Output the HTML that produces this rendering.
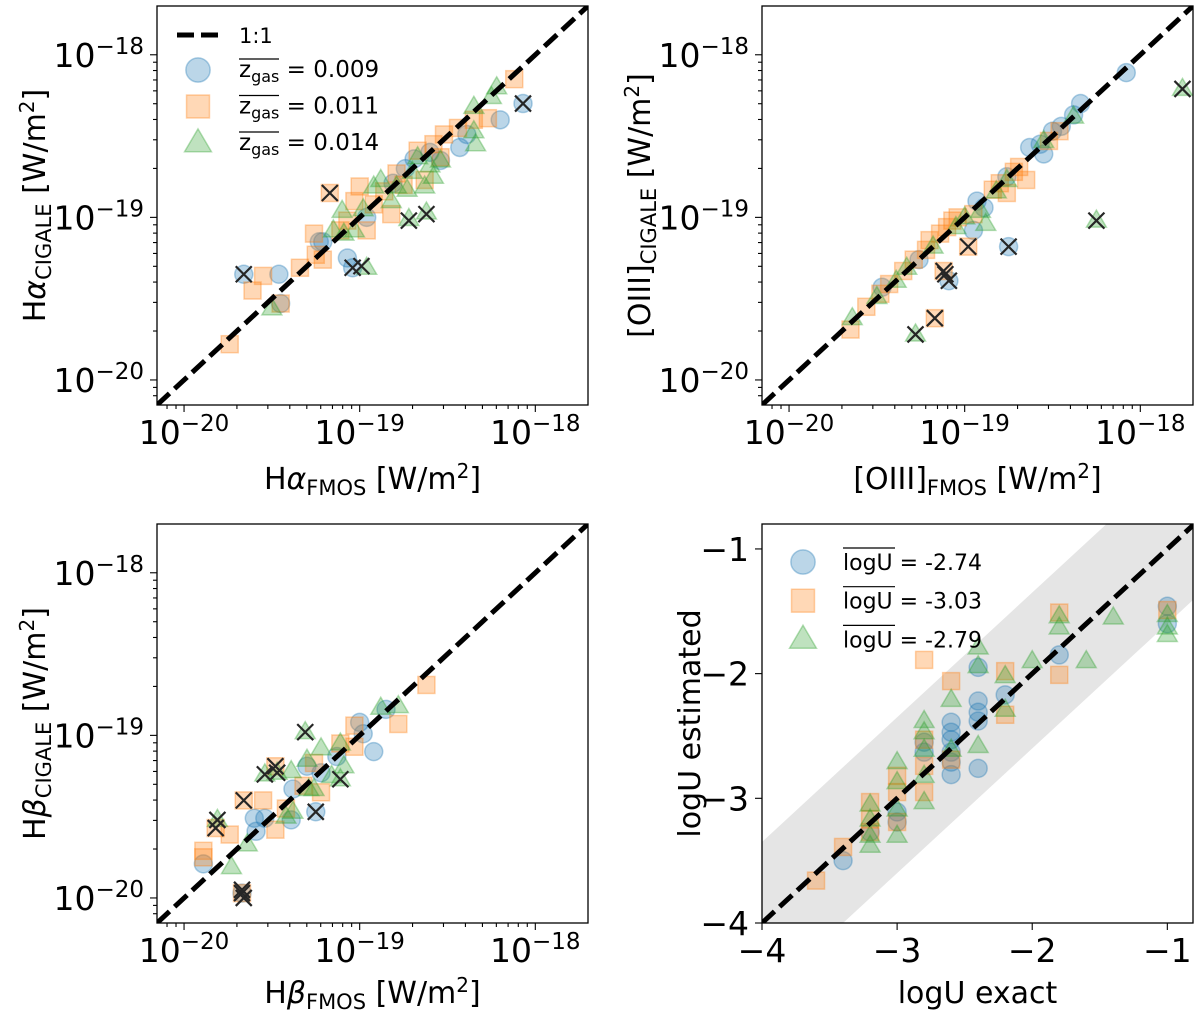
<!DOCTYPE html>
<html><head><meta charset="utf-8"><style>
html,body{margin:0;padding:0;background:#fff;width:1200px;height:1023px;overflow:hidden;}
svg{display:block;font-family:"DejaVu Sans","Liberation Sans",sans-serif;overflow:hidden;}
</style></head><body>
<svg id="fig" width="1200" height="1023" viewBox="0 0 1200 1023" xmlns="http://www.w3.org/2000/svg"></svg>
<script>
// ---------------- DATA (log10 flux values) ----------------
const p1Blue=[[-19.66,-19.35],[-19.46,-19.35],[-19.45,-19.53],[-19.23,-19.15],[-19.21,-19.15],[-19.07,-19.25],[-19.04,-19.31],[-18.20,-18.40],[-18.07,-18.30],[-18.43,-18.57],[-18.54,-18.65],[-18.69,-18.64],[-18.96,-19.00],[-18.81,-18.79],[-18.39,-18.49],[-18.74,-18.70],[-18.60,-18.60]];
const p1Orange=[[-19.55,-19.36],[-19.61,-19.45],[-19.45,-19.53],[-19.74,-19.78],[-19.34,-19.31],[-19.25,-19.23],[-19.21,-19.26],[-19.17,-18.85],[-19.26,-19.10],[-18.12,-18.15],[-18.27,-18.39],[-18.35,-18.40],[-18.52,-18.49],[-18.44,-18.45],[-19.00,-18.81],[-18.92,-18.92],[-18.82,-18.98],[-18.79,-18.73],[-18.67,-18.59],[-18.63,-18.77],[-18.54,-18.63],[-19.03,-18.90],[-19.11,-19.08],[-18.96,-19.08],[-18.86,-18.84],[-18.75,-18.80],[-18.58,-18.55],[-19.07,-19.02]];
const p1Green=[[-19.50,-19.56],[-19.10,-18.96],[-19.09,-19.10],[-19.03,-19.08],[-18.96,-19.31],[-18.72,-19.01],[-18.62,-18.97],[-18.22,-18.20],[-18.25,-18.26],[-18.35,-18.32],[-18.34,-18.55],[-18.35,-18.47],[-18.54,-18.65],[-18.58,-18.75],[-18.63,-18.81],[-18.73,-18.83],[-18.82,-18.90],[-18.92,-18.81],[-18.67,-18.63],[-18.79,-18.81],[-19.15,-19.08],[-18.88,-18.77],[-18.70,-18.72],[-18.98,-18.95],[-18.60,-18.68]];
const p1Cross=[[-19.66,-19.35],[-19.17,-18.85],[-19.04,-19.31],[-18.99,-19.30],[-18.72,-19.02],[-18.62,-18.98],[-18.07,-18.30]];

const p2Blue=[[-18.08,-18.11],[-18.34,-18.30],[-18.38,-18.37],[-18.50,-18.47],[-18.57,-18.55],[-18.55,-18.61],[-18.76,-18.75],[-18.93,-18.90],[-18.89,-18.94],[-18.95,-19.08],[-19.26,-19.26],[-19.47,-19.43],[-19.09,-19.39],[-18.75,-19.18],[-18.63,-18.57],[-18.45,-18.44]];
const p2Orange=[[-19.65,-19.69],[-19.56,-19.55],[-19.43,-19.41],[-19.29,-19.26],[-19.20,-19.14],[-19.10,-19.06],[-19.07,-19.02],[-18.80,-18.79],[-18.76,-18.85],[-18.69,-18.69],[-18.65,-18.77],[-18.52,-18.53],[-18.46,-18.47],[-19.12,-19.33],[-18.98,-19.18],[-19.17,-19.62],[-18.95,-18.98],[-19.22,-19.20],[-19.04,-19.00],[-19.14,-19.10],[-18.72,-18.72],[-18.84,-18.83],[-19.35,-19.33],[-19.48,-19.47]];
const p2Green=[[-19.64,-19.62],[-19.50,-19.49],[-19.39,-19.39],[-19.18,-19.18],[-19.05,-19.06],[-18.88,-19.04],[-18.91,-18.96],[-18.76,-18.77],[-18.38,-18.38],[-19.28,-19.72],[-18.25,-19.02],[-17.76,-18.21],[-19.33,-19.31],[-18.55,-18.53],[-19.00,-19.00],[-18.82,-18.84]];
const p2Cross=[[-19.09,-19.39],[-19.11,-19.35],[-18.75,-19.18],[-19.12,-19.33],[-18.98,-19.18],[-19.17,-19.62],[-19.28,-19.72],[-18.25,-19.02],[-17.76,-18.21]];

const p3Blue=[[-19.89,-19.79],[-19.60,-19.51],[-19.59,-19.59],[-19.54,-19.51],[-19.39,-19.52],[-19.38,-19.33],[-19.30,-19.19],[-19.13,-19.13],[-19.00,-18.92],[-18.98,-18.99],[-18.92,-19.10],[-18.85,-18.84],[-19.67,-19.97],[-19.25,-19.47],[-19.22,-19.23]];
const p3Orange=[[-19.89,-19.71],[-19.89,-19.75],[-19.74,-19.61],[-19.55,-19.40],[-19.48,-19.58],[-19.66,-19.40],[-19.82,-19.57],[-19.48,-19.19],[-19.03,-19.07],[-19.03,-18.94],[-19.11,-19.05],[-18.62,-18.69],[-18.78,-18.93],[-19.22,-19.35],[-19.32,-19.31],[-19.26,-19.17],[-19.67,-19.97],[-19.42,-19.45]];
const p3Green=[[-19.73,-19.81],[-19.64,-19.67],[-19.81,-19.52],[-19.39,-19.22],[-19.30,-19.15],[-19.22,-19.08],[-19.31,-18.98],[-19.11,-19.27],[-19.54,-19.24],[-19.47,-19.23],[-19.42,-19.50],[-19.38,-19.47],[-19.26,-19.33],[-19.16,-19.25],[-19.09,-19.19],[-18.88,-18.83],[-18.78,-18.82],[-19.11,-19.05],[-19.29,-19.33]];
const p3Cross=[[-19.31,-18.98],[-19.48,-19.19],[-19.54,-19.24],[-19.47,-19.23],[-19.66,-19.40],[-19.82,-19.57],[-19.81,-19.52],[-19.25,-19.47],[-19.11,-19.27],[-19.67,-19.97],[-19.67,-19.95],[-19.66,-20.00]];

const p4Blue=[[-3.4,-3.50],[-3.0,-3.19],[-3.0,-3.11],[-2.6,-2.81],[-2.6,-2.71],[-2.6,-2.63],[-2.6,-2.53],[-2.6,-2.47],[-2.6,-2.39],[-2.8,-2.55],[-2.8,-2.63],[-2.4,-1.95],[-2.4,-2.22],[-2.4,-2.31],[-2.4,-2.38],[-2.4,-2.76],[-2.2,-2.17],[-1.8,-1.85],[-1.0,-1.46],[-1.0,-1.60],[-3.2,-3.27]];
const p4Orange=[[-3.6,-3.66],[-3.4,-3.39],[-3.2,-3.03],[-3.2,-3.17],[-3.2,-3.27],[-3.0,-2.82],[-3.0,-2.95],[-3.0,-3.19],[-2.8,-1.89],[-2.8,-2.53],[-2.8,-2.74],[-2.8,-2.95],[-2.6,-2.06],[-2.6,-2.69],[-2.2,-1.98],[-2.2,-2.33],[-1.8,-1.51],[-1.8,-2.01],[-1.0,-1.49]];
const p4Green=[[-3.2,-3.05],[-3.2,-3.17],[-3.2,-3.30],[-3.2,-3.38],[-3.0,-2.71],[-3.0,-2.87],[-3.0,-3.09],[-3.0,-3.30],[-2.8,-2.38],[-2.8,-2.47],[-2.8,-2.61],[-2.8,-2.82],[-2.8,-3.03],[-2.6,-2.21],[-2.6,-2.61],[-2.4,-1.79],[-2.4,-1.94],[-2.4,-2.58],[-2.2,-2.02],[-2.2,-2.29],[-2.0,-1.90],[-1.8,-1.54],[-1.8,-1.63],[-1.6,-1.90],[-1.4,-1.55],[-1.0,-1.53],[-1.0,-1.63],[-1.0,-1.69]];

const logTicks=[-20,-19,-18];
const linTicks=[-4,-3,-2,-1];
const legendZ=["0.009","0.011","0.014"];
const legendU=["-2.74","-3.03","-2.79"];
const bandUpper=0.65, bandLower=0.6;

// ---------------- RENDER ----------------
const NS='http://www.w3.org/2000/svg';
const svg=document.getElementById('fig');
function mk(tag,attrs,parent){const e=document.createElementNS(NS,tag);for(const k in attrs)e.setAttribute(k,attrs[k]);(parent||svg).appendChild(e);return e;}
const C={blue:'#1f77b4',orange:'#ff7f0e',green:'#2ca02c'};

function makeAxes(b){
  b.sx=v=>b.x0+(v-b.xlo)/(b.xhi-b.xlo)*(b.x1-b.x0);
  b.sy=v=>b.y1-(v-b.ylo)/(b.yhi-b.ylo)*(b.y1-b.y0);
  return b;
}
function marker(g,kind,cx,cy,s){
  let e;
  if(kind==='circle'){e=mk('circle',{cx:cx,cy:cy,r:9*s,fill:C.blue,'fill-opacity':0.3,stroke:C.blue,'stroke-opacity':0.35,'stroke-width':1.5},g);}
  else if(kind==='square'){const h=8.5*s;e=mk('rect',{x:cx-h,y:cy-h,width:2*h,height:2*h,fill:C.orange,'fill-opacity':0.3,stroke:C.orange,'stroke-opacity':0.35,'stroke-width':1.5},g);}
  else {const h=10.5*s;e=mk('polygon',{points:`${cx},${cy-h} ${cx+h*0.95},${cy+h*0.62} ${cx-h*0.95},${cy+h*0.62}`,fill:C.green,'fill-opacity':0.3,stroke:C.green,'stroke-opacity':0.35,'stroke-width':1.5},g);}
  return e;
}
function drawSeries(g,ax,data,kind,name){
  data.forEach(d=>{
    const e=marker(g,kind,ax.sx(d[0]),ax.sy(d[1]),1);
    
    
  });
}
function drawCross(g,ax,data){
  data.forEach(d=>{
    const x=ax.sx(d[0]),y=ax.sy(d[1]),h=8;
    const p=mk('path',{d:`M${x-h},${y-h}L${x+h},${y+h}M${x-h},${y+h}L${x+h},${y-h}`,stroke:'#262626','stroke-width':2.2,fill:'none'},g);
    
    
  });
}
let clipId=0;
function panel(ax,opts){
  makeAxes(ax);
  const root=mk('g',{});
  
  
  const cid='clip'+(clipId++);
  const cp=mk('clipPath',{id:cid},root);
  mk('rect',{x:ax.x0,y:ax.y0,width:ax.x1-ax.x0,height:ax.y1-ax.y0},cp);
  const plot=mk('g',{'clip-path':`url(#${cid})`},root);
  
  
  if(opts.band){
    const pts=[[ax.xlo,ax.xlo+bandUpper],[ax.yhi-bandUpper,ax.yhi],[ax.xhi,ax.yhi],[ax.xhi,ax.xhi-bandLower],[ax.ylo+bandLower,ax.ylo],[ax.xlo,ax.ylo]];
    const band=mk('polygon',{points:pts.map(p=>ax.sx(p[0])+','+ax.sy(p[1])).join(' '),fill:'#e5e5e5'},plot);
    
    
  }
  drawSeries(plot,ax,opts.blue,'circle','series-blue-point');
  drawSeries(plot,ax,opts.orange,'square','series-orange-point');
  drawSeries(plot,ax,opts.green,'triangle','series-green-point');
  if(opts.cross) drawCross(plot,ax,opts.cross);
  const lo=Math.max(ax.xlo,ax.ylo),hi=Math.min(ax.xhi,ax.yhi);
  const ln=mk('line',{x1:ax.sx(lo),y1:ax.sy(lo),x2:ax.sx(hi),y2:ax.sy(hi),stroke:'#000','stroke-width':5,'stroke-dasharray':'17 7'},plot);
  
  
  const fr=mk('rect',{x:ax.x0,y:ax.y0,width:ax.x1-ax.x0,height:ax.y1-ax.y0,fill:'none',stroke:'#000','stroke-width':1.3},root);
  
  
  const tg=mk('g',{stroke:'#000','stroke-width':1.1},root);
  
  
  const lg=mk('g',{'font-size':33,fill:'#000'},root);
  
  
  if(opts.log){
    for(let d=-21;d<=-18;d++){for(let k=2;k<=9;k++){const v=d+Math.log10(k);
      if(v>ax.xlo&&v<ax.xhi){mk('line',{x1:ax.sx(v),y1:ax.y1,x2:ax.sx(v),y2:ax.y1+4},tg);}
      if(v>ax.ylo&&v<ax.yhi){mk('line',{x1:ax.x0,y1:ax.sy(v),x2:ax.x0-4,y2:ax.sy(v)},tg);}
    }}
    logTicks.forEach(t=>{
      mk('line',{x1:ax.sx(t),y1:ax.y1,x2:ax.sx(t),y2:ax.y1+7},tg);
      mk('line',{x1:ax.x0,y1:ax.sy(t),x2:ax.x0-7,y2:ax.sy(t)},tg);
      const tx=mk('text',{x:ax.sx(t),y:ax.y1+39,'text-anchor':'middle'},lg);
      
      
      tx.appendChild(document.createTextNode('10'));
      const s1=mk('tspan',{'font-size':23,dy:-13},tx);s1.textContent='\u2212'+(-t);
      const ty=mk('text',{x:ax.x0-13,y:ax.sy(t)+12,'text-anchor':'end'},lg);
      
      
      ty.appendChild(document.createTextNode('10'));
      const s2=mk('tspan',{'font-size':23,dy:-13},ty);s2.textContent='\u2212'+(-t);
    });
  } else {
    linTicks.forEach(t=>{
      mk('line',{x1:ax.sx(t),y1:ax.y1,x2:ax.sx(t),y2:ax.y1+7},tg);
      mk('line',{x1:ax.x0,y1:ax.sy(t),x2:ax.x0-7,y2:ax.sy(t)},tg);
      const tx=mk('text',{x:ax.sx(t),y:ax.y1+39,'text-anchor':'middle'},lg);
      
      
      tx.textContent='\u2212'+(-t);
      const ty=mk('text',{x:ax.x0-13,y:ax.sy(t)+12,'text-anchor':'end'},lg);
      
      
      ty.textContent='\u2212'+(-t);
    });
  }
  function label(parts,x,y,rot,nm){
    const t=mk('text',{x:x,y:y,'text-anchor':'middle','font-size':30,transform:rot?`rotate(-90 ${x} ${y})`:''},root);
    
    
    parts.forEach(p=>{const s=mk('tspan',p.a||{},t);s.textContent=p.t;});
  }
  label(opts.xlabel,(ax.x0+ax.x1)/2,ax.y1+opts.xly,false,'x-axis-title');
  label(opts.ylabel,opts.ylx,(ax.y0+ax.y1)/2,true,'y-axis-title');
  return root;
}
function fluxLabel(pre,greek,sub){
  const a=[{t:pre}];
  if(greek)a.push({t:greek,a:{'font-style':'italic'}});
  a.push({t:sub,a:{'font-size':21,dy:6}});
  a.push({t:' [W/m',a:{dy:-6}});
  a.push({t:'2',a:{'font-size':20,dy:-11}});
  a.push({t:']',a:{dy:11}});
  return a;
}
const LO=-20.154,HI=-17.70;
panel({x0:157,y0:6,x1:588,y1:405,xlo:LO,xhi:HI,ylo:LO,yhi:HI},{name:'panel-halpha',log:true,blue:p1Blue,orange:p1Orange,green:p1Green,cross:p1Cross,xlabel:fluxLabel('H','\u03b1','FMOS'),ylabel:fluxLabel('H','\u03b1','CIGALE'),ylx:45,xly:84});
panel({x0:762,y0:6,x1:1193,y1:405,xlo:LO,xhi:HI,ylo:LO,yhi:HI},{name:'panel-oiii',log:true,blue:p2Blue,orange:p2Orange,green:p2Green,cross:p2Cross,xlabel:fluxLabel('[OIII]','','FMOS'),ylabel:fluxLabel('[OIII]','','CIGALE'),ylx:650,xly:84});
panel({x0:157,y0:524,x1:588,y1:923,xlo:LO,xhi:HI,ylo:LO,yhi:HI},{name:'panel-hbeta',log:true,blue:p3Blue,orange:p3Orange,green:p3Green,cross:p3Cross,xlabel:fluxLabel('H','\u03b2','FMOS'),ylabel:fluxLabel('H','\u03b2','CIGALE'),ylx:45,xly:80});
panel({x0:762,y0:524,x1:1193,y1:923,xlo:-4,xhi:-0.81,ylo:-4,yhi:-0.8},{name:'panel-logu',log:false,band:true,blue:p4Blue,orange:p4Orange,green:p4Green,xlabel:[{t:'logU exact'}],ylabel:[{t:'logU estimated'}],ylx:700,xly:80});

const kinds=['circle','square','triangle'];
const lg1=mk('g',{'font-size':21});


const ll=mk('line',{x1:177,y1:35,x2:220,y2:35,stroke:'#000','stroke-width':5,'stroke-dasharray':'17 7'},lg1);


const lt=mk('text',{x:239,y:43},lg1);


lt.textContent='1:1';
legendZ.forEach((v,i)=>{
  const cy=70+i*36.5;
  const m=marker(lg1,kinds[i],198,cy,1.35);
  
  
  const t=mk('text',{x:239,y:cy+7,'font-size':23},lg1);
  
  
  const a=mk('tspan',{},t);a.textContent='z';
  const b=mk('tspan',{'font-size':16,dy:5},t);b.textContent='gas';
  const c=mk('tspan',{dy:-5},t);c.textContent=' = '+v;
  mk('line',{x1:239,y1:cy-11,x2:279,y2:cy-11,stroke:'#000','stroke-width':1.2},lg1);
});
const lg4=mk('g',{'font-size':22});


legendU.forEach((v,i)=>{
  const cy=562+i*38.7;
  const m=marker(lg4,kinds[i],803,cy,1.35);
  
  
  const t=mk('text',{x:843,y:cy+8},lg4);
  
  
  t.textContent='logU = '+v;
  mk('line',{x1:843,y1:cy-14,x2:895,y2:cy-14,stroke:'#000','stroke-width':1.2},lg4);
});
</script>
</body></html>
